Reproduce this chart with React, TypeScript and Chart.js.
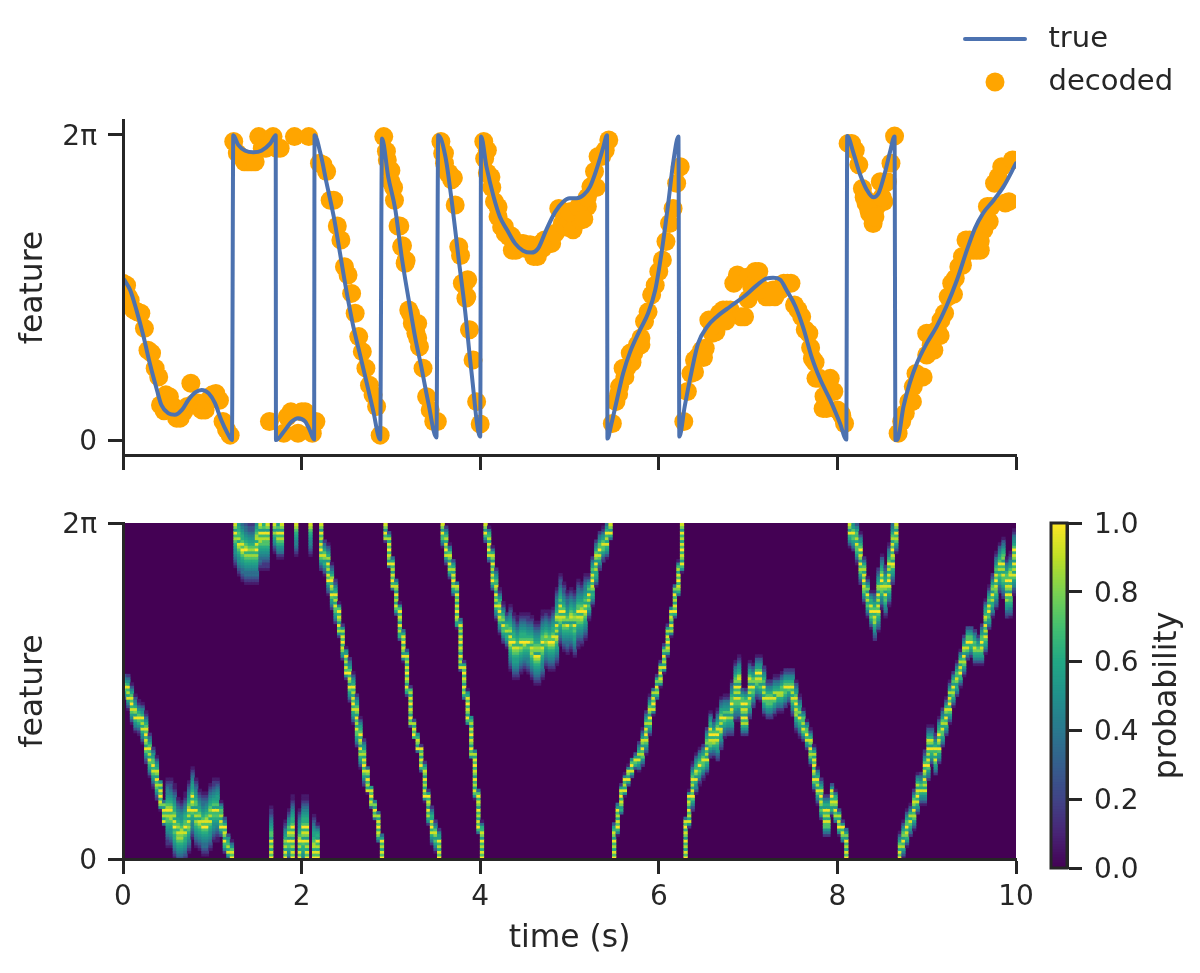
import React, { useEffect, useRef } from "react";
import { Chart, registerables } from "chart.js";

Chart.register(...registerables);

const TWO_PI = 6.283;
const INK = "#262626";
const FONT = "'DejaVu Sans'";
const TICK_SIZE = 28;
const LEGEND_SIZE = 29;
const LABEL_SIZE = 31.4;

const timeTicks = [0, 2, 4, 6, 8, 10];
const featureTicks = [0, TWO_PI];
const featureTickLabels = ["0", "2π"];
const colorbarTicks = [0, 0.2, 0.4, 0.6, 0.8, 1.0];

const trueTime = [
  0.01, 0.08, 0.15, 0.23, 0.3, 0.38, 0.43, 0.51, 0.58, 0.66, 0.73, 0.81, 0.88, 0.96, 1.03, 1.1, 1.17, 1.22,
  1.235, 1.29, 1.37, 1.46, 1.55, 1.65, 1.71, 1.713, 1.8, 1.89, 1.96, 2.04, 2.09, 2.14, 2.145, 2.21, 2.28, 2.36,
  2.43, 2.5, 2.58, 2.65, 2.73, 2.8, 2.88, 2.9, 2.97, 3.05, 3.12, 3.2, 3.27, 3.34, 3.42, 3.51, 3.53, 3.61, 3.68,
  3.76, 3.83, 3.9, 4.0, 4.01, 4.07, 4.15, 4.22, 4.3, 4.39, 4.48, 4.57, 4.65, 4.74, 4.84, 4.93, 5.0, 5.08, 5.16,
  5.23, 5.3, 5.38, 5.42, 5.425, 5.47, 5.53, 5.6, 5.68, 5.79, 5.88, 5.96, 6.03, 6.11, 6.16, 6.22, 6.23, 6.29,
  6.37, 6.44, 6.54, 6.65, 6.8, 6.95, 7.1, 7.21, 7.28, 7.36, 7.43, 7.53, 7.62, 7.71, 7.81, 7.92, 8.03, 8.1, 8.11,
  8.18, 8.25, 8.33, 8.4, 8.46, 8.53, 8.59, 8.64, 8.65, 8.67, 8.74, 8.81, 8.89, 9.0, 9.11, 9.22, 9.34, 9.45, 9.54,
  9.63, 9.75, 9.86, 10.0,
];
const trueFeature = [
  3.31, 3.09, 2.68, 2.13, 1.58, 1.03, 0.72, 0.55, 0.52, 0.62, 0.82, 0.98, 1.03, 0.96, 0.76, 0.41, 0.14, 0.0,
  6.28, 6.08, 5.96, 5.93, 5.96, 6.11, 6.28, 0.0, 0.17, 0.38, 0.45, 0.38, 0.21, 0.01, 6.28, 5.91, 5.29, 4.6,
  3.85, 3.09, 2.33, 1.79, 1.17, 0.62, 0.01, 6.21, 5.42, 4.74, 3.78, 2.88, 2.13, 1.51, 0.76, 0.05, 6.28, 5.84, 4.94,
  3.71, 2.68, 1.44, 0.07, 6.25, 5.63, 5.01, 4.6, 4.33, 4.05, 3.9, 3.86, 3.95, 4.33, 4.7, 4.91, 4.98, 4.98, 5.05,
  5.22, 5.56, 6.04, 6.28, 0.03, 0.34, 0.82, 1.37, 1.82, 2.27, 2.61, 3.09, 3.85, 4.94, 5.7, 6.25, 0.07, 0.69,
  1.44, 1.99, 2.33, 2.54, 2.75, 2.95, 3.19, 3.33, 3.34, 3.3, 3.09, 2.75, 2.3, 1.72, 1.24, 0.82, 0.34, 0.01, 6.26,
  5.91, 5.49, 5.15, 5.0, 5.08, 5.49, 5.94, 6.25, 0.0, 0.0, 0.69, 1.17, 1.58, 1.99, 2.33, 2.75, 3.3, 3.91, 4.36,
  4.67, 4.94, 5.22, 5.7,
];

const BIN_SECONDS = 0.04;
const decodedFeature = [
  3.23, 3.19, 2.88, 2.68, 2.64, 2.61, 2.3, 1.85, 1.79, 1.48,
  1.3, 0.72, 0.93, 0.89, 0.69, 0.45, 0.45, 0.58, 0.69, 1.17,
  0.76, 0.76, 0.62, 0.62, 0.82, 0.93, 0.96, 0.82, 0.38, 0.21,
  0.1, 6.15, 5.91, 5.84, 5.73, 5.73, 5.73, 5.73, 6.25, 6.01,
  6.01, 0.38, 6.25, 6.01, 6.01, 0.14, 0.48, 0.58, 6.25, 0.14,
  0.58, 0.58, 6.25, 0.14, 0.38, 5.7, 5.67, 5.53, 4.94, 4.94,
  4.41, 4.12, 3.57, 3.4, 3.02, 2.61, 2.13, 1.82, 1.48, 1.13,
  0.93, 0.69, 0.1, 6.25, 5.77, 5.32, 4.94, 4.41, 3.98, 3.64,
  2.68, 2.4, 2.2, 1.92, 1.48, 0.89, 0.62, 0.38, 0.38, 6.15,
  5.91, 5.49, 5.36, 4.84, 3.98, 3.23, 2.92, 2.27, 1.65, 0.79,
  0.33, 6.15, 5.97, 5.42, 4.91, 4.6, 4.39, 4.26, 4.19, 3.91,
  3.91, 4.05, 4.05, 4.02, 4.02, 3.78, 3.78, 4.05, 4.12, 4.05,
  4.05, 4.26, 4.77, 4.46, 4.39, 4.53, 4.33, 4.67, 4.53, 4.74,
  4.81, 5.22, 5.53, 5.84, 5.84, 5.97, 6.18, 0.34, 0.79, 1.1,
  1.48, 1.48, 1.79, 1.79, 1.96, 1.96, 2.44, 2.64, 2.99, 3.19,
  3.47, 3.71, 4.09, 4.46, 4.77, 5.29, 5.63, 0.38, 1.0, 1.37,
  1.65, 1.72, 1.85, 1.89, 2.47, 2.2, 2.23, 2.61, 2.68, 2.68,
  2.68, 3.23, 3.4, 2.54, 2.54, 3.36, 3.16, 3.47, 3.47, 3.09,
  2.95, 2.95, 3.09, 3.09, 3.09, 3.23, 3.23, 3.23, 2.78, 2.68,
  2.54, 2.27, 2.2, 1.68, 1.27, 1.27, 0.65, 0.65, 1.27, 1.0,
  0.62, 0.55, 0.34, 6.11, 6.11, 5.97, 5.67, 5.18, 4.88, 4.67,
  4.46, 4.81, 5.32, 4.91, 5.32, 5.7, 6.26, 0.14, 0.38, 0.55,
  0.79, 0.79, 1.37, 1.3, 1.3, 2.2, 2.2, 1.85, 2.27, 2.47,
  2.61, 2.95, 3.23, 3.33, 3.57, 3.78, 4.12, 4.12, 3.91, 3.91,
  3.91, 4.33, 4.81, 4.81, 5.29, 5.42, 5.63, 4.88, 4.91, 5.77,
];

const extraDecodedTime = [
  0.0, 0.06, 0.42, 0.46, 2.95, 3.0, 3.03, 3.1, 3.13, 3.17, 3.22, 3.3, 3.3, 3.58, 3.6, 3.65, 3.7, 3.78, 3.82, 3.85,
  3.86, 4.05, 4.08, 4.13, 4.2, 4.27, 4.35, 4.5, 4.6, 4.7, 5.0, 5.1, 5.16, 5.2, 5.3, 5.55, 5.62, 5.7, 5.8, 6.4,
  6.5, 6.6, 6.7, 6.75, 7.0, 7.15, 7.3, 7.7, 7.75, 7.85, 7.9, 8.05, 8.3, 8.35, 8.42, 8.5, 8.85, 9.0, 9.05, 9.15,
  9.3, 9.4, 9.5, 9.6, 9.7,
];
const extraDecodedFeature = [
  2.9, 2.95, 0.72, 0.6, 5.95, 5.55, 5.2, 4.41, 4.0, 3.7, 2.6, 2.1, 2.4, 5.9, 5.7, 5.5, 5.4, 3.8, 3.2, 2.95,
  3.3, 5.8, 5.5, 5.2, 4.8, 4.4, 4.2, 3.95, 3.9, 3.95, 4.7, 4.8, 4.55, 5.0, 5.2, 0.95, 1.3, 1.6, 2.1, 1.4,
  1.7, 2.35, 2.5, 2.45, 2.9, 3.1, 2.95, 1.9, 1.6, 0.9, 1.0, 0.5, 5.0, 4.75, 4.6, 5.0, 1.1, 1.75, 1.95, 2.15,
  3.0, 3.6, 4.0, 4.1, 4.5,
];

// Half-height of the probability ridge: each value holds until the matching time.
const spreadUntil = [
  0.1, 0.4, 0.45, 0.72, 1.08, 1.24, 1.65, 1.72, 1.86, 2.16, 2.4, 2.5, 2.7, 2.96, 3.2, 3.34, 3.42, 3.52, 3.72,
  4.0, 4.16, 4.3, 5.2, 5.44, 5.76, 5.9, 6.24, 6.36, 6.62, 6.9, 7.0, 7.6, 7.76, 7.92, 8.1, 8.26, 8.4, 8.64, 8.9,
  9.2, 9.5, 9.75, 10.01,
];
const spreadValues = [
  0.25, 0.3, 0.1, 0.6, 0.55, 0.2, 0.6, 0.4, 0.4, 0.6, 0.3, 0.12, 0.3, 0.08, 0.12, 0.07, 0.12, 0.25, 0.2,
  0.1, 0.15, 0.3, 0.55, 0.3, 0.12, 0.25, 0.12, 0.1, 0.3, 0.4, 0.25, 0.35, 0.2, 0.25, 0.15, 0.3, 0.25, 0.4, 0.25,
  0.3, 0.25, 0.3, 0.4,
];
const falloff = [0.85, 0.72, 0.62, 0.56, 0.5, 0.44, 0.36, 0.26, 0.16, 0.07];
const ridgeBanding = [1.0, 0.72, 0.95, 0.6, 0.88, 0.68, 0.98, 0.55, 0.8, 0.93, 0.65];
const BRANCH_JUMP = 1.5;
const WRAP_JUMP = 3.5;
const FEATURE_BINS = 120;

const viridis = [
  [68, 1, 84], [72, 36, 117], [65, 68, 135], [53, 95, 141], [42, 120, 142], [33, 145, 140],
  [34, 168, 132], [68, 191, 112], [122, 209, 81], [189, 223, 38], [253, 231, 37],
];

function viridisColor(v: number) {
  const p = Math.max(0, Math.min(1, v)) * (viridis.length - 1);
  const i = Math.min(viridis.length - 2, Math.floor(p));
  const f = p - i;
  const c = viridis[i].map((a, k) => Math.round(a + (viridis[i + 1][k] - a) * f));
  return `rgb(${c[0]},${c[1]},${c[2]})`;
}

function spreadAt(t: number) {
  const i = spreadUntil.findIndex((u) => t < u);
  return spreadValues[i < 0 ? spreadValues.length - 1 : i];
}

function buildCells() {
  const rowHeight = TWO_PI / FEATURE_BINS;
  const cells: { x: number; y: [number, number]; v: number }[] = [];
  decodedFeature.forEach((centre, i) => {
    const t = i * BIN_SECONDS;
    const spread = spreadAt(t);
    // The ridge of one column joins up with its neighbours on the same branch,
    // and runs out to the edge of the panel where the feature wraps round.
    let lo = centre;
    let hi = centre;
    [decodedFeature[i - 1], decodedFeature[i + 1]].forEach((n) => {
      if (n === undefined) return;
      const gap = Math.abs(n - centre);
      if (gap > WRAP_JUMP) {
        if (centre > TWO_PI / 2) hi = TWO_PI;
        else lo = 0;
      } else if (gap <= BRANCH_JUMP) {
        lo = Math.min(lo, (n + centre) / 2);
        hi = Math.max(hi, (n + centre) / 2);
      }
    });
    for (let r = 0; r < FEATURE_BINS; r++) {
      const yMid = (r + 0.5) * rowHeight;
      const inRidge = yMid >= lo - rowHeight / 2 && yMid <= hi + rowHeight / 2;
      const d = inRidge ? 0 : Math.min(Math.abs(yMid - lo), Math.abs(yMid - hi));
      if (!inRidge && d >= spread) continue;
      const v = inRidge
        ? ridgeBanding[r % ridgeBanding.length]
        : falloff[Math.min(falloff.length - 1, Math.floor((d / spread) * falloff.length))];
      cells.push({ x: t + BIN_SECONDS / 2, y: [r * rowHeight, (r + 1) * rowHeight], v });
    }
  });
  return cells;
}

function axisBase(extra: any) {
  return {
    type: "linear",
    grid: { offset: false, drawOnChartArea: false, drawTicks: true, tickLength: 15, tickWidth: 3, tickColor: INK, z: 1 },
    border: { display: true, color: INK, width: 3, z: 1 },
    ...extra,
  };
}

function tickOptions(callback: any, padding: number, labelOffset: number) {
  return {
    autoSkip: false,
    maxRotation: 0,
    color: INK,
    padding,
    labelOffset,
    font: { family: FONT, size: TICK_SIZE },
    callback,
  };
}

function title(text: string, padding: any) {
  return { display: true, text, color: INK, padding, font: { family: FONT, size: LABEL_SIZE } };
}

function forceTicks(values: number[]) {
  return (scale: any) => {
    scale.ticks = values.map((value) => ({ value }));
  };
}

function featureAxis(min: number, max: number, boxWidth: number) {
  return axisBase({
    min,
    max,
    afterBuildTicks: forceTicks(featureTicks),
    afterFit: (s: any) => {
      s.width = boxWidth;
    },
    ticks: tickOptions((v: number) => featureTickLabels[featureTicks.indexOf(v)], 11, 2.5),
    title: title("feature", { top: 15, bottom: 0 }),
  });
}

function timeAxis(boxHeight: number, showLabels: boolean) {
  return axisBase({
    min: 0,
    max: 10,
    afterBuildTicks: forceTicks(timeTicks),
    afterFit: (s: any) => {
      s.height = boxHeight;
    },
    ticks: tickOptions((v: number) => (showLabels ? String(v) : ""), 7, 0),
    title: showLabels ? title("time (s)", { top: 0, bottom: 15 }) : { display: false },
  });
}

function glyph(w: number, h: number, draw: (c: CanvasRenderingContext2D) => void) {
  const el = document.createElement("canvas");
  el.width = w;
  el.height = h;
  draw(el.getContext("2d") as CanvasRenderingContext2D);
  return el;
}

const canvasStyle = (left: number, top: number): React.CSSProperties => ({ position: "absolute", left, top, display: "block" });

export default function App() {
  const topRef = useRef<HTMLCanvasElement>(null);
  const heatRef = useRef<HTMLCanvasElement>(null);
  const barRef = useRef<HTMLCanvasElement>(null);

  useEffect(() => {
    const lineGlyph = glyph(64, 6, (c) => {
      c.strokeStyle = "#4c72b0";
      c.lineWidth = 4;
      c.lineCap = "round";
      c.beginPath();
      c.moveTo(2, 3);
      c.lineTo(62, 3);
      c.stroke();
    });
    const discGlyph = glyph(20, 20, (c) => {
      c.fillStyle = "#ffa500";
      c.beginPath();
      c.arc(10, 10, 9.5, 0, Math.PI * 2);
      c.fill();
    });

    const decodedPoints = [
      ...decodedFeature.map((y, i) => ({ x: i * BIN_SECONDS, y })),
      ...extraDecodedTime.map((x, i) => ({ x, y: extraDecodedFeature[i] })),
    ];

    const topChart = new Chart(topRef.current as HTMLCanvasElement, {
      type: "scatter",
      data: {
        datasets: [
          {
            label: "true",
            data: trueTime.map((x, i) => ({ x, y: trueFeature[i] })),
            showLine: true,
            borderColor: "#4c72b0",
            backgroundColor: "#4c72b0",
            borderWidth: 4,
            borderJoinStyle: "round",
            borderCapStyle: "round",
            pointRadius: 0,
            cubicInterpolationMode: "monotone",
            clip: 0,
            order: 0,
          },
          {
            label: "decoded",
            data: decodedPoints,
            showLine: false,
            backgroundColor: "#ffa500",
            borderWidth: 0,
            pointRadius: 9.5,
            pointBorderWidth: 0,
            clip: 0,
            order: 1,
          },
        ],
      } as any,
      options: {
        responsive: false,
        animation: false,
        events: [],
        layout: { padding: { left: 0, right: 184, top: 120, bottom: 0 } },
        scales: {
          x: timeAxis(35, false),
          y: featureAxis(-0.309, 6.592, 123),
        } as any,
        plugins: {
          tooltip: { enabled: false },
          legend: {
            display: true,
            position: "chartArea",
            align: "start",
            labels: {
              usePointStyle: true,
              pointStyleWidth: 78,
              padding: 14,
              color: INK,
              font: { family: FONT, size: LEGEND_SIZE },
              generateLabels: () => [
                { text: "true", pointStyle: lineGlyph, datasetIndex: 0, hidden: false, fontColor: INK, lineWidth: 0 },
                { text: "decoded", pointStyle: discGlyph, datasetIndex: 1, hidden: false, fontColor: INK, lineWidth: 0 },
              ],
            },
          },
        } as any,
      },
      plugins: [
        {
          id: "placeLegend",
          afterLayout(chart: any) {
            const legend = chart.legend;
            if (!legend) return;
            legend.left = 942;
            legend.right = 1200;
            legend.top = 10.5;
            legend.bottom = 120;
            legend.adjustHitBoxes();
          },
        },
      ],
    });

    const cells = buildCells();
    const heatChart = new Chart(heatRef.current as HTMLCanvasElement, {
      type: "bar",
      data: {
        datasets: [
          {
            label: "probability",
            data: cells,
            backgroundColor: cells.map((c) => viridisColor(c.v)),
            borderWidth: 0,
            barThickness: 3.6,
            clip: 0,
          },
        ],
      } as any,
      options: {
        responsive: false,
        animation: false,
        events: [],
        layout: { padding: { left: 0, right: 184, top: 33, bottom: 0 } },
        scales: {
          x: { ...timeAxis(114, true), offset: false },
          y: featureAxis(0, TWO_PI, 123),
        } as any,
        plugins: { legend: { display: false }, tooltip: { enabled: false } },
      },
      plugins: [
        {
          id: "heatBackground",
          beforeDatasetsDraw(chart: any) {
            const { ctx, chartArea: a } = chart;
            ctx.save();
            ctx.fillStyle = viridisColor(0);
            ctx.fillRect(a.left, a.top, a.right - a.left, a.bottom - a.top);
            ctx.restore();
          },
        },
      ],
    });

    const ramp = Array.from({ length: 128 }, (_, i) => i / 128);
    const barChart = new Chart(barRef.current as HTMLCanvasElement, {
      type: "bar",
      data: {
        datasets: [
          {
            label: "probability",
            data: ramp.map((v) => ({ x: 0.5, y: [v, Math.min(1, v + 2 / 128)] })),
            backgroundColor: ramp.map((v) => viridisColor(v + 1 / 256)),
            borderWidth: 0,
            barThickness: 16,
            clip: 0,
          },
        ],
      } as any,
      options: {
        responsive: false,
        animation: false,
        events: [],
        layout: { padding: { left: 11, right: 0, top: 33, bottom: 105 } },
        scales: {
          x: { type: "linear", display: false, min: 0, max: 1, offset: false },
          y: {
            type: "linear",
            position: "right",
            min: 0,
            max: 1,
            afterBuildTicks: forceTicks(colorbarTicks),
            afterFit: (s: any) => {
              s.width = 133;
            },
            grid: { drawOnChartArea: false, drawTicks: true, tickLength: 15, tickWidth: 3, tickColor: INK, z: 1 },
            border: { display: true, color: INK, width: 3, z: 1 },
            ticks: tickOptions((v: number) => v.toFixed(1), 12, 3),
          },
        } as any,
        plugins: { legend: { display: false }, tooltip: { enabled: false } },
      },
      plugins: [
        {
          id: "colorbarFrame",
          afterDraw(chart: any) {
            const { ctx, chartArea: a } = chart;
            ctx.save();
            ctx.strokeStyle = INK;
            ctx.lineWidth = 3;
            ctx.strokeRect(a.left, a.top, a.right - a.left, a.bottom - a.top);
            ctx.translate(128, (a.top + a.bottom) / 2);
            ctx.rotate(-Math.PI / 2);
            ctx.fillStyle = INK;
            ctx.font = `${LABEL_SIZE}px ${FONT}`;
            ctx.textAlign = "center";
            ctx.textBaseline = "middle";
            ctx.fillText("probability", 0, 0);
            ctx.restore();
          },
        },
      ],
    });

    return () => {
      topChart.destroy();
      heatChart.destroy();
      barChart.destroy();
    };
  }, []);

  return (
    <div style={{ position: "absolute", left: 0, top: 0, width: 1200, height: 973, background: "#fff", overflow: "hidden" }}>
      <canvas ref={topRef} width={1200} height={490} style={canvasStyle(0, 0)} />
      <canvas ref={heatRef} width={1200} height={483} style={canvasStyle(0, 490)} />
      <canvas ref={barRef} width={160} height={483} style={canvasStyle(1040, 490)} />
    </div>
  );
}
